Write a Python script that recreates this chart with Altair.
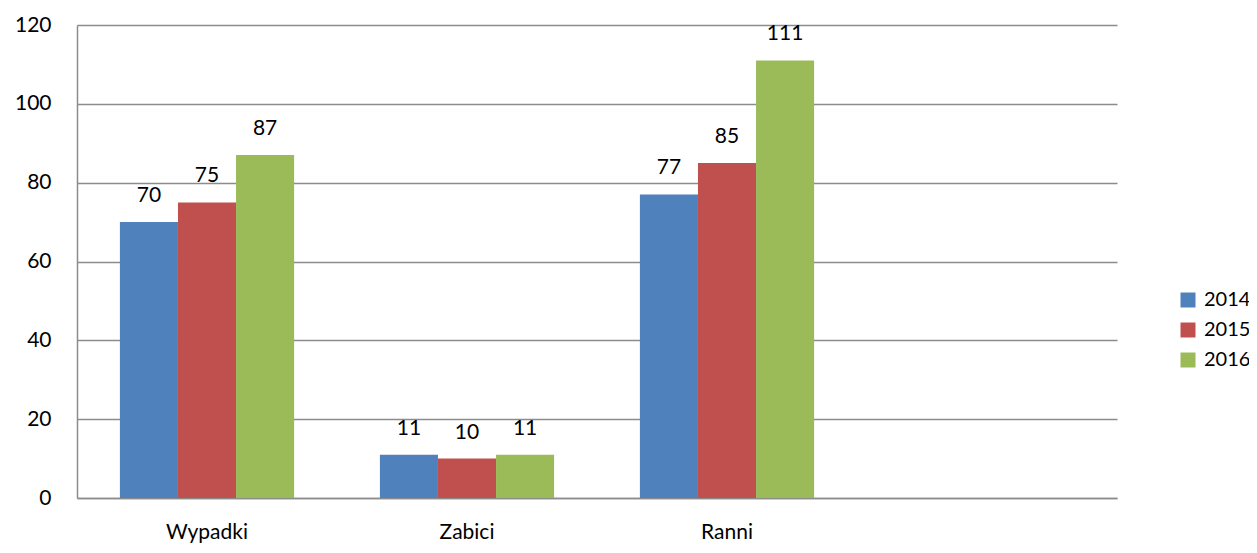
import altair as alt
import pandas as pd

categories = ["Wypadki", "Zabici", "Ranni"]
years = ["2014", "2015", "2016"]
values_2014 = [70, 11, 77]
values_2015 = [75, 10, 85]
values_2016 = [87, 11, 111]
colors = ["#4F81BD", "#C0504D", "#9BBB59"]

rows = []
for yr, vals in zip(years, [values_2014, values_2015, values_2016]):
    for c, v in zip(categories, vals):
        rows.append({"kat": c, "rok": yr, "val": v})
df = pd.DataFrame(rows)

FONT = "Lato"
domain_x = categories + [" "]

base = alt.Chart(df).encode(
    x=alt.X("kat:N", sort=domain_x,
            scale=alt.Scale(domain=domain_x, paddingInner=0.33, paddingOuter=0.165),
            axis=alt.Axis(title=None, labelAngle=0, ticks=False, grid=False,
                          labelFontSize=21, labelFont=FONT, labelColor="#000000",
                          labelPadding=23, domainColor="#8c8c8c", domainWidth=1.5)),
    xOffset=alt.XOffset("rok:N", scale=alt.Scale(paddingInner=0, paddingOuter=0)),
    y=alt.Y("val:Q", scale=alt.Scale(domain=[0, 120]),
            axis=alt.Axis(title=None, values=[0, 20, 40, 60, 80, 100, 120], ticks=False,
                          labelFontSize=21, labelFont=FONT, labelColor="#000000",
                          labelPadding=26, gridColor="#8c8c8c", gridWidth=1.5,
                          domainColor="#8c8c8c", domainWidth=1.5)),
)

bars = base.mark_bar().encode(
    color=alt.Color("rok:N", scale=alt.Scale(domain=years, range=colors),
                    legend=alt.Legend(title=None, orient="none", legendX=1101, legendY=265,
                                      symbolType="square", symbolSize=225, symbolStrokeWidth=0,
                                      labelFontSize=20, labelFont=FONT, labelColor="#000000",
                                      rowPadding=10, labelOffset=6))
)

labels = base.mark_text(baseline="alphabetic", dy=-20, fontSize=21, font=FONT,
                        color="#000000").encode(text="val:Q")

chart = alt.layer(bars, labels).properties(
    width=1040, height=473,
    autosize=alt.AutoSizeParams(type="none"),
    padding={"left": 69, "top": 17, "right": 132, "bottom": 47},
).configure_view(stroke=None)

chart.save("out.html", embed_options={"renderer": "svg", "actions": False})
